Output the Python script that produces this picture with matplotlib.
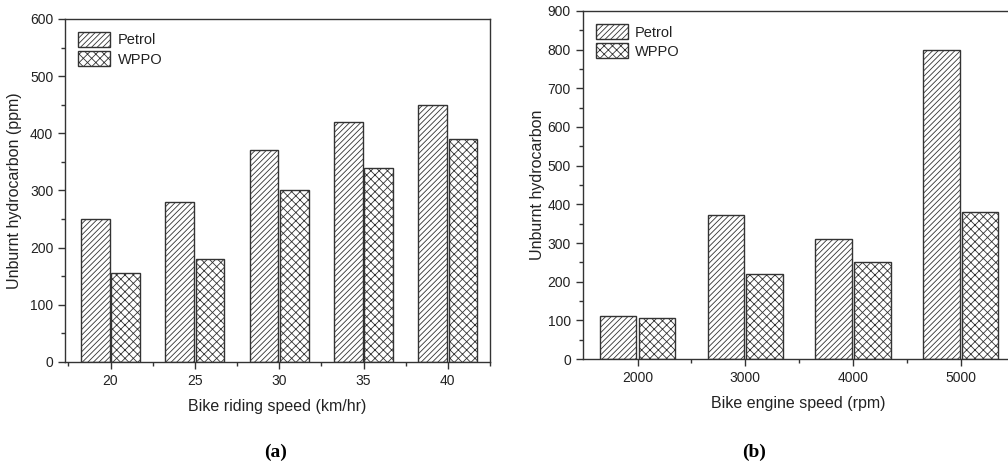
import matplotlib
matplotlib.use("Agg")
import matplotlib.pyplot as plt
import numpy as np
from matplotlib.ticker import MultipleLocator

plt.rcParams['font.family'] = ['Liberation Sans', 'DejaVu Sans']
plt.rcParams['hatch.linewidth'] = 0.6
plt.rcParams['hatch.color'] = '#555555'

# panel (a): bike riding speed
speed_kmh = [20, 25, 30, 35, 40]
petrol_a = [250, 280, 370, 420, 450]
wppo_a = [155, 180, 300, 340, 390]

# panel (b): engine speed
speed_rpm = [2000, 3000, 4000, 5000]
petrol_b = [110, 372, 310, 800]
wppo_b = [105, 220, 250, 380]

EDGE = '#333333'
TXT = '#222222'

fig = plt.figure(figsize=(10.08, 4.68), dpi=100)
ax1 = fig.add_axes([0.0645, 0.2265, 0.4216, 0.733])
ax2 = fig.add_axes([0.578, 0.2329, 0.4286, 0.7436])


def draw_panel(ax, x, petrol, wppo, width, offset):
    x = np.array(x, dtype=float)
    ax.bar(x - offset, petrol, width, facecolor='white', edgecolor=EDGE,
           hatch='//////', linewidth=1.0, label='Petrol')
    ax.bar(x + offset, wppo, width, facecolor='white', edgecolor=EDGE,
           hatch='xxxx', linewidth=1.0, label='WPPO')
    ax.set_xticks(x)
    ax.tick_params(axis='both', which='major', direction='out', length=5,
                   width=1.0, color=EDGE, labelsize=10, labelcolor=TXT,
                   top=False, right=False)
    ax.tick_params(axis='both', which='minor', direction='out', length=3,
                   width=1.0, color=EDGE, top=False, right=False)
    for s in ax.spines.values():
        s.set_color(EDGE)
        s.set_linewidth(1.0)
    leg = ax.legend(loc='upper left', frameon=False, fontsize=10.5,
                    handlelength=2.2, handleheight=1.2, labelspacing=0.25,
                    handletextpad=0.5, borderaxespad=0.5)
    for t in leg.get_texts():
        t.set_color(TXT)


draw_panel(ax1, speed_kmh, petrol_a, wppo_a, 1.7, 0.9)
ax1.set_xlim(17.3, 42.5)
ax1.set_ylim(0, 600)
ax1.yaxis.set_major_locator(MultipleLocator(100))
ax1.yaxis.set_minor_locator(MultipleLocator(50))
ax1.set_xticks([17.5, 22.5, 27.5, 32.5, 37.5, 42.5], minor=True)
ax1.set_xlabel('Bike riding speed (km/hr)', fontsize=11.5, color=TXT, labelpad=8)
ax1.set_ylabel('Unburnt hydrocarbon (ppm)', fontsize=11.5, color=TXT, labelpad=6)

draw_panel(ax2, speed_rpm, petrol_b, wppo_b, 340, 180)
ax2.set_xlim(1490, 5500)
ax2.set_ylim(0, 900)
ax2.yaxis.set_major_locator(MultipleLocator(100))
ax2.yaxis.set_minor_locator(MultipleLocator(50))
ax2.set_xticks([2500, 3500, 4500], minor=True)
ax2.set_xlabel('Bike engine speed (rpm)', fontsize=11.5, color=TXT, labelpad=8)
ax2.set_ylabel('Unburnt hydrocarbon', fontsize=11.5, color=TXT, labelpad=2)

fig.text(0.273, 0.034, '(a)', fontsize=14, fontweight='bold',
         family='Liberation Serif', ha='center', va='center', color='black')
fig.text(0.748, 0.034, '(b)', fontsize=14, fontweight='bold',
         family='Liberation Serif', ha='center', va='center', color='black')

fig.savefig('out.png', dpi=100)
